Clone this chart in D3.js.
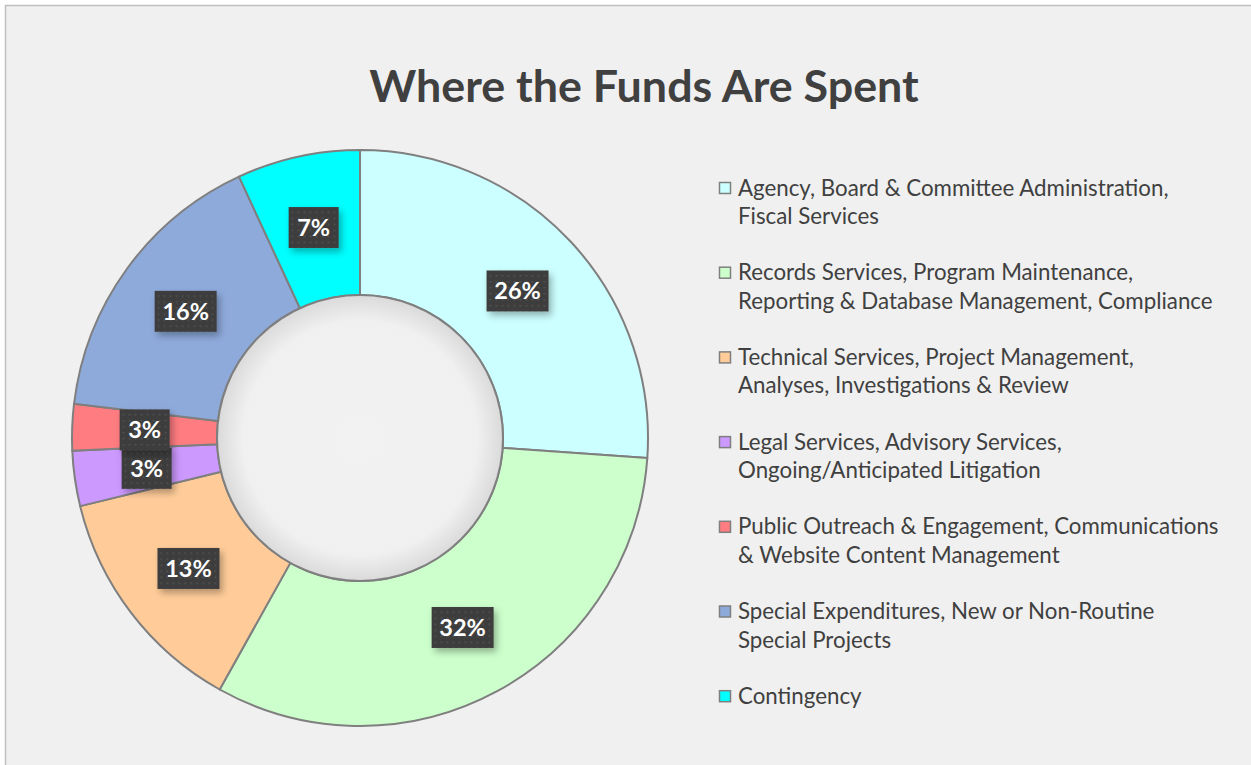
<!DOCTYPE html>
<html>
<head>
<meta charset="utf-8">
<script src="https://cdn.jsdelivr.net/npm/d3@7"></script>
<style>
  body { margin: 0; background: #ffffff; }
  svg { display: block; }
</style>
</head>
<body>
<svg id="chart" width="1251" height="765"></svg>
<script>
// chart data
var categories = [
    "Agency, Board & Committee Administration, Fiscal Services",
    "Records Services, Program Maintenance, Reporting & Database Management, Compliance",
    "Technical Services, Project Management, Analyses, Investigations & Review",
    "Legal Services, Advisory Services, Ongoing/Anticipated Litigation",
    "Public Outreach & Engagement, Communications & Website Content Management",
    "Special Expenditures, New or Non-Routine Special Projects",
    "Contingency"
];
var legendLines = [
    ["Agency, Board & Committee Administration,", "Fiscal Services"],
    ["Records Services, Program Maintenance,", "Reporting & Database Management, Compliance"],
    ["Technical Services, Project Management,", "Analyses, Investigations & Review"],
    ["Legal Services, Advisory Services,", "Ongoing/Anticipated Litigation"],
    ["Public Outreach & Engagement, Communications", "& Website Content Management"],
    ["Special Expenditures, New or Non-Routine", "Special Projects"],
    ["Contingency"]
];
var shares = [26.1, 32.0, 13.1, 3.1, 2.6, 16.2, 6.9];
var labels = ["26%", "32%", "13%", "3%", "3%", "16%", "7%"];
var colors = ["#ccffff", "#ccffcc", "#ffcc99", "#cc99ff", "#ff7c80", "#8eaadb", "#00ffff"];

var data = categories.map(function(c, i) {
    return {name: c, value: shares[i], label: labels[i], lines: legendLines[i]};
});

var svg = d3.select("#chart");
var defs = svg.append("defs");

// background panel
svg.append("rect")
    .attr("x", 5.5).attr("y", 5.5)
    .attr("width", 1300).attr("height", 800)
    .attr("fill", "#f0f0f0")
    .attr("stroke", "#bfbfbf")
    .attr("stroke-width", 1.5);

svg.append("text")
    .attr("x", 644)
    .attr("y", 102)
    .attr("text-anchor", "middle")
    .attr("font-family", "Lato, 'Open Sans', sans-serif")
    .attr("font-weight", "bold")
    .attr("font-size", 44.8)
    .attr("fill", "#404040")
    .text("Where the Funds Are Spent");

// hole gradient
var grad = defs.append("radialGradient").attr("id", "hole");
grad.append("stop").attr("offset", "0%").attr("stop-color", "#f2f2f2");
grad.append("stop").attr("offset", "82%").attr("stop-color", "#f0f0f0");
grad.append("stop").attr("offset", "100%").attr("stop-color", "#dadada");

// dotted label fill
var pat = defs.append("pattern")
    .attr("id", "dots")
    .attr("width", 6).attr("height", 6)
    .attr("patternUnits", "userSpaceOnUse");
pat.append("rect").attr("width", 6).attr("height", 6).attr("fill", "#3d3d3d");
pat.append("rect").attr("x", 2).attr("y", 2).attr("width", 1.5).attr("height", 1.5).attr("fill", "#575757");

var shadow = defs.append("filter").attr("id", "shadow")
    .attr("x", "-30%").attr("y", "-30%").attr("width", "170%").attr("height", "170%");
shadow.append("feDropShadow")
    .attr("dx", 3).attr("dy", 4)
    .attr("stdDeviation", 3.5)
    .attr("flood-color", "#000").attr("flood-opacity", 0.3);

var cx = 360, cy = 438, outerR = 288, innerR = 143;

var pie = d3.pie().sort(null).value(function(d) { return d.value; });
var arc = d3.arc().innerRadius(innerR).outerRadius(outerR);
var arcs = pie(data);

var g = svg.append("g").attr("transform", "translate(" + cx + "," + cy + ")");

g.selectAll(".slice")
    .data(arcs)
    .enter()
    .append("path")
        .attr("class", "slice")
        .attr("d", arc)
        .attr("fill", function(d, i) { return colors[i]; })
        .attr("stroke", "#7f7f7f")
        .attr("stroke-width", 2)
        .attr("stroke-linejoin", "round");

g.append("circle")
    .attr("r", innerR)
    .attr("fill", "url(#hole)")
    .attr("stroke", "#7f7f7f")
    .attr("stroke-width", 2);

// data labels sit on the arc centroids
var lab = g.selectAll(".lab")
    .data(arcs)
    .enter()
    .append("g")
        .attr("class", "lab")
        .attr("transform", function(d) {
            var c = arc.centroid(d);
            return "translate(" + c[0] + "," + c[1] + ")";
        });

lab.append("rect")
    .attr("x", function(d) { return d.data.label.length > 2 ? -31 : -25; })
    .attr("y", -20.5)
    .attr("width", function(d) { return d.data.label.length > 2 ? 62 : 50; })
    .attr("height", 41)
    .attr("fill", "url(#dots)")
    .attr("filter", "url(#shadow)");

lab.append("text")
    .attr("text-anchor", "middle")
    .attr("dy", "0.36em")
    .attr("font-family", "Lato, 'Open Sans', sans-serif")
    .attr("font-weight", "bold")
    .attr("font-size", 23.5)
    .attr("fill", "#ffffff")
    .text(function(d) { return d.data.label; });

// legend
var legend = svg.append("g").attr("transform", "translate(719,188)");
var items = legend.selectAll(".item")
    .data(data)
    .enter()
    .append("g")
        .attr("class", "item")
        .attr("transform", function(d, i) { return "translate(0," + (i * 84.7) + ")"; });

items.append("rect")
    .attr("x", 0.5).attr("y", -5.5)
    .attr("width", 11).attr("height", 11)
    .attr("fill", function(d, i) { return colors[i]; })
    .attr("stroke", "#7f7f7f")
    .attr("stroke-width", 1.5);

items.append("text")
    .attr("font-family", "Lato, 'Open Sans', sans-serif")
    .attr("font-size", 22.3)
    .attr("fill", "#404040")
    .selectAll("tspan")
    .data(function(d) { return d.lines; })
    .enter()
    .append("tspan")
        .attr("x", 19)
        .attr("y", function(d, j) { return 7.5 + j * 28.5; })
        .text(function(d) { return d; });
</script>
</body>
</html>
